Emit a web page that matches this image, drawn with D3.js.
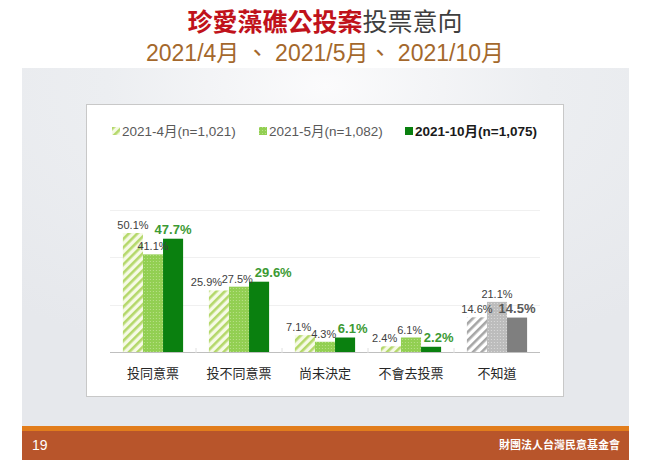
<!DOCTYPE html>
<html>
<head>
<meta charset="utf-8">
<script src="https://cdn.jsdelivr.net/npm/d3@7"></script>
<style>
  html, body { margin: 0; padding: 0; background: #fff; }
  svg { display: block; font-family: "Liberation Sans", Arial, "Noto Sans CJK TC", sans-serif; }
</style>
</head>
<body>
<div id="chart"></div>
<script>
// values
var categories = ["投同意票", "投不同意票", "尚未決定", "不會去投票", "不知道"];
var seriesNames = ["2021-4月(n=1,021)", "2021-5月(n=1,082)", "2021-10月(n=1,075)"];
var apr = [50.1, 25.9, 7.1, 2.4, 14.6];
var may = [41.1, 27.5, 4.3, 6.1, 21.1];
var oct = [47.7, 29.6, 6.1, 2.2, 14.5];
var yTicks = [0, 20, 40, 60];

var width = 651, height = 473;

var svg = d3.select("#chart").append("svg")
    .attr("width", width)
    .attr("height", height);

var defs = svg.append("defs");

// slide background panel
var rg = defs.append("radialGradient").attr("id", "panelGrad")
    .attr("cx", "0.5").attr("cy", "0.05").attr("r", "0.8");
rg.append("stop").attr("offset", "0%").attr("stop-color", "#fbfbfc");
rg.append("stop").attr("offset", "45%").attr("stop-color", "#eceef1");
rg.append("stop").attr("offset", "100%").attr("stop-color", "#e6e8ec");

function stripes(id, bg, fg) {
  var p = defs.append("pattern").attr("id", id)
      .attr("patternUnits", "userSpaceOnUse")
      .attr("width", 6).attr("height", 6)
      .attr("patternTransform", "rotate(45)");
  p.append("rect").attr("width", 6).attr("height", 6).attr("fill", bg);
  p.append("rect").attr("width", 2.6).attr("height", 6).attr("fill", fg);
}
function dots(id, bg, fg) {
  var p = defs.append("pattern").attr("id", id)
      .attr("patternUnits", "userSpaceOnUse")
      .attr("width", 3).attr("height", 3);
  p.append("rect").attr("width", 3).attr("height", 3).attr("fill", bg);
  p.append("rect").attr("width", 1).attr("height", 1).attr("fill", fg);
}
stripes("stripeGreen", "#f6fae6", "#b4d86a");
dots("dotGreen", "#92cf52", "#b9e08a");
stripes("stripeGray", "#ffffff", "#a6a6a6");
dots("dotGray", "#bcbcbc", "#dadada");

var fills = [
  ["url(#stripeGreen)", "url(#dotGreen)", "#0a800f"],
  ["url(#stripeGray)", "url(#dotGray)", "#7f7f7f"]
];

svg.append("rect").attr("x", 22).attr("y", 68).attr("width", 607).attr("height", 358)
    .attr("fill", "url(#panelGrad)");
svg.append("rect").attr("x", 22).attr("y", 426).attr("width", 607).attr("height", 5)
    .attr("fill", "#e27d1c");
svg.append("rect").attr("x", 22).attr("y", 431).attr("width", 607).attr("height", 29)
    .attr("fill", "#b8552b");
svg.append("text").attr("x", 32).attr("y", 450)
    .attr("fill", "#fff").attr("font-size", 14).text("19");
svg.append("text").attr("x", 620).attr("y", 449).attr("text-anchor", "end")
    .attr("fill", "#fff").attr("font-size", 11).attr("font-weight", "bold")
    .attr("font-family", "Noto Sans CJK TC").text("財團法人台灣民意基金會");

// titles
var t = svg.append("text").attr("x", 325).attr("y", 31).attr("text-anchor", "middle")
    .attr("font-size", 25).attr("font-weight", "bold").attr("font-family", "Noto Sans CJK TC");
t.append("tspan").attr("fill", "#c0121b").text("珍愛藻礁公投案");
t.append("tspan").attr("fill", "#3f3f3f").attr("font-weight", "normal").text("投票意向");
svg.append("text").attr("x", 325).attr("y", 61).attr("text-anchor", "middle")
    .attr("font-size", 23).attr("fill", "#a4682c")
    .attr("font-family", "Liberation Sans, Noto Sans CJK TC")
    .text("2021/4月 、 2021/5月、 2021/10月");

// chart box
svg.append("rect").attr("x", 86.5).attr("y", 104.5).attr("width", 477).attr("height", 292)
    .attr("fill", "#fff").attr("stroke", "#c8c8c8");

var x = d3.scaleBand().domain(categories).range([110, 540])
    .paddingInner(0.3).paddingOuter(0.15);
var xs = d3.scaleBand().domain([0, 1, 2]).range([0, x.bandwidth()]);
var y = d3.scaleLinear().domain([0, 60]).range([352, 209.5]);

// grid
svg.append("g").selectAll("line").data(yTicks.slice(1)).enter().append("line")
    .attr("x1", 110).attr("x2", 540)
    .attr("y1", function(d) { return Math.round(y(d)) + 0.5; })
    .attr("y2", function(d) { return Math.round(y(d)) + 0.5; })
    .attr("stroke", "#f0f0f0");

var rows = categories.map(function(c, i) {
  return { cat: c, i: i, vals: [apr[i], may[i], oct[i]] };
});

var groups = svg.append("g").selectAll("g").data(rows).enter().append("g")
    .attr("transform", function(d) { return "translate(" + x(d.cat) + ",0)"; });

groups.selectAll("rect").data(function(d) {
  return d.vals.map(function(v, k) { return { v: v, k: k, gray: d.i === 4 ? 1 : 0 }; });
}).enter().append("rect")
    .attr("x", function(d) { return xs(d.k); })
    .attr("y", function(d) { return y(d.v); })
    .attr("width", xs.bandwidth())
    .attr("height", function(d) { return y(0) - y(d.v); })
    .attr("fill", function(d) { return fills[d.gray][d.k]; });

// value labels, nudged apart when they collide
groups.each(function(d) {
  var g = d3.select(this);
  var labels = d.vals.map(function(v, k) {
    var big = k === 2;
    var txt = v.toFixed(1) + "%";
    var w = big ? txt.length * 7.9 : txt.length * 6.1;
    return { v: v, k: k, txt: txt, big: big, w: w,
      cx: xs(k) + xs.bandwidth() / 2,
      yb: y(v) - (big ? 5 : 4) };
  });
  for (var pass = 0; pass < 3; pass++) {
    for (var a = 0; a < 2; a++) {
      var L = labels[a], R = labels[a + 1];
      var vOverlap = Math.abs(L.yb - R.yb) < 11;
      var gap = (R.cx - R.w / 2) - (L.cx + L.w / 2);
      if (vOverlap && gap < 1) {
        var shift = (1 - gap) / 2;
        L.cx -= shift; R.cx += shift;
      }
    }
  }
  g.selectAll("text.val").data(labels).enter().append("text")
      .attr("class", "val")
      .attr("x", function(l) { return l.cx; })
      .attr("y", function(l) { return l.yb; })
      .attr("text-anchor", "middle")
      .attr("font-size", function(l) { return l.big ? 13 : 11; })
      .attr("font-weight", function(l) { return l.big ? "bold" : "normal"; })
      .attr("fill", function(l) {
        if (!l.big) return "#404040";
        return d.i === 4 ? "#595959" : "#3c9a34";
      })
      .text(function(l) { return l.txt; });
});

// baseline and category ticks
svg.append("line").attr("x1", 110).attr("x2", 540).attr("y1", 352.5).attr("y2", 352.5)
    .attr("stroke", "#bfbfbf");
svg.append("g").selectAll("line").data(d3.range(1, categories.length)).enter().append("line")
    .attr("x1", function(i) { return 110 + i * x.step(); })
    .attr("x2", function(i) { return 110 + i * x.step(); })
    .attr("y1", 348).attr("y2", 353).attr("stroke", "#e0e0e0");

svg.append("g").selectAll("text").data(categories).enter().append("text")
    .attr("x", function(d) { return x(d) + x.bandwidth() / 2; })
    .attr("y", 378)
    .attr("text-anchor", "middle")
    .attr("font-size", 13)
    .attr("font-family", "Noto Sans CJK TC")
    .attr("fill", "#262626")
    .text(function(d) { return d; });

// legend
var legendX = [112, 259, 405];
var leg = svg.append("g").selectAll("g").data(seriesNames).enter().append("g")
    .attr("transform", function(d, k) { return "translate(" + legendX[k] + ",127)"; });
leg.append("rect").attr("width", 8).attr("height", 8)
    .attr("fill", function(d, k) { return fills[0][k]; });
leg.append("text").attr("x", 10).attr("y", 9)
    .attr("font-size", 13.5)
    .attr("font-weight", function(d, k) { return k === 2 ? "bold" : "normal"; })
    .attr("fill", function(d, k) { return k === 2 ? "#1a1a1a" : "#595959"; })
    .attr("font-family", "Liberation Sans, Noto Sans CJK TC")
    .text(function(d) { return d; });
</script>
</body>
</html>
